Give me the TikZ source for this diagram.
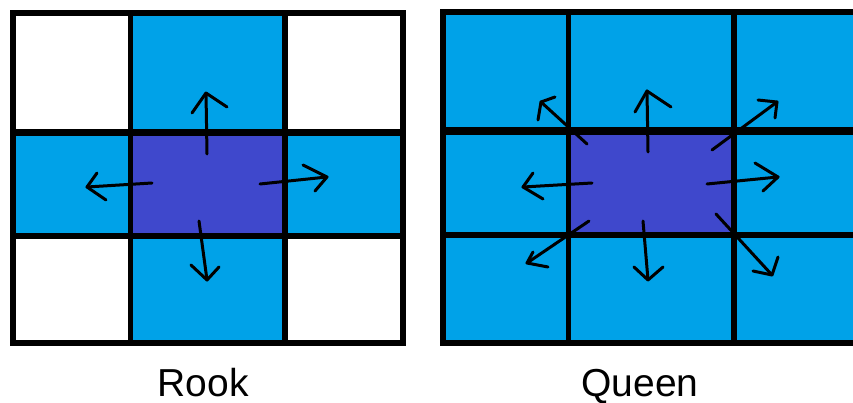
\documentclass[tikz,border=0pt]{standalone}
\usepackage{fontspec}
\setmainfont{Liberation Sans}
\definecolor{cellblue}{RGB}{0,162,232}
\definecolor{centercell}{RGB}{63,72,204}

% one hand-drawn move arrow: shaft from #1 to tip #2, head strokes to #3 and #4
\newcommand\movearrow[4]{%
  \draw[move] #1 -- #2;
  \draw[move] #3 -- #2 -- #4;
}

\begin{document}
\begin{tikzpicture}[x=1pt,y=-1pt,
  outerline/.style={line width=6pt},
  innerline/.style={line width=5.5pt},
  move/.style={line width=3pt, line cap=round, line join=round},
  caption/.style={anchor=base, inner sep=0pt, font=\fontsize{39}{45}\selectfont}]
\useasboundingbox (0,0) rectangle (853,403);
\clip (0,0) rectangle (853,403);
\fill[white] (0,0) rectangle (853,403);

% ---- rook board ----
\fill[cellblue] (130.5,13) rectangle (285,343);
\fill[cellblue] (13,132.5) rectangle (403,236);
\fill[centercell] (130.5,132.5) rectangle (285,236);
\draw[innerline] (130.5,13) -- (130.5,343);
\draw[innerline] (285,13) -- (285,343);
\draw[innerline, line width=7pt] (13,132.5) -- (403,132.5);
\draw[innerline] (13,236) -- (403,236);
\draw[outerline] (13,13) rectangle (403,343);

\movearrow{(207,154)}{(206,93)}{(192,113)}{(227,107)}
\movearrow{(152,183)}{(87,187)}{(97,173)}{(106,200)}
\movearrow{(260,184)}{(327,177)}{(303,165)}{(315,191)}
\movearrow{(199,221)}{(207,280)}{(191,265)}{(219,267)}

\node[caption] (rook) at (203,396) {Rook};

% ---- queen board ----
\fill[cellblue] (443,12.5) rectangle (870,343);
\fill[centercell] (568.5,131.5) rectangle (734,235);
\draw[innerline] (568.5,12.5) -- (568.5,343);
\draw[innerline] (734,12.5) -- (734,343);
\draw[innerline, line width=8pt] (443,131.5) -- (870,131.5);
\draw[innerline] (443,235) -- (870,235);
\draw[outerline] (870,12.5) -- (443,12.5) -- (443,343) -- (870,343);

\movearrow{(587,144)}{(541,102)}{(538,120)}{(555,97)}
\movearrow{(648,152)}{(647,91)}{(635,112)}{(671,107)}
\movearrow{(712,150)}{(777,102)}{(758,100)}{(775,118)}
\movearrow{(592,183)}{(523,187)}{(533,173)}{(543,199)}
\movearrow{(707,184)}{(778,177)}{(755,163)}{(763,191)}
\movearrow{(589,221)}{(527,263)}{(533,252)}{(548,267)}
\movearrow{(643,221)}{(648,280)}{(634,267)}{(663,267)}
\movearrow{(716,214)}{(772,275)}{(753,271)}{(778,257)}

\node[caption] (queen) at (640,396) {Queen};
\end{tikzpicture}
\end{document}
